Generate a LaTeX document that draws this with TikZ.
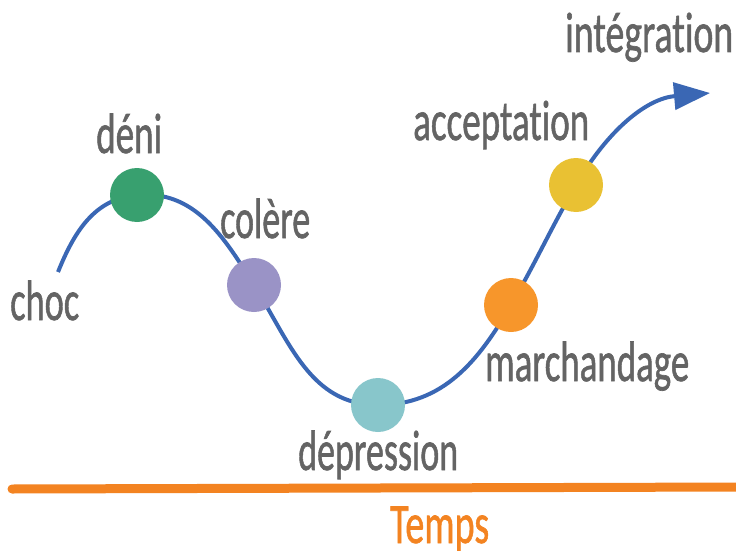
\documentclass[tikz,border=0pt]{standalone}
\usepackage{fontspec}
\setmainfont{Carlito}[Ligatures={NoCommon}, FakeBold=1.2]
\usetikzlibrary{arrows.meta}
\definecolor{txtgray}{HTML}{646464}
\definecolor{curveblue}{HTML}{3A67B4}
\definecolor{timeorange}{HTML}{F38321}
\definecolor{cgreen}{HTML}{38A06F}
\definecolor{cpurple}{HTML}{9A93C6}
\definecolor{cteal}{HTML}{88C6CB}
\definecolor{corange}{HTML}{F7962B}
\definecolor{cyellow}{HTML}{E9C133}
\newcommand{\fitw}[2]{\resizebox{#1}{\height}{#2}}
\begin{document}
\begin{tikzpicture}[x=1pt,y=-1pt,
  lbl/.style={anchor=base west, inner sep=0pt, text=txtgray, font=\fontsize{57}{57}\selectfont},
  stage/.style={circle, minimum size=54pt, inner sep=0pt, draw=none},
  wave/.style={draw=curveblue, line width=4pt},
  axis/.style={draw=timeorange, line width=9pt, line cap=round}]
\useasboundingbox (0,0) rectangle (736,551);
% axis
\coordinate (axL) at (12,489);
\coordinate (axR) at (745,487);
\draw[axis] (axL) -- (axR);
% curve anchors
\coordinate (start) at (58,272);
\coordinate (tip) at (710,93);
\coordinate (pD) at (137,195);
\coordinate (pC) at (254,285);
\coordinate (pP) at (378,405);
\coordinate (pM) at (511,305);
\coordinate (pA) at (576,185);
\draw[wave, -{Triangle[length=36pt,width=27pt]}]
  (start) to[out=68,in=185] (pD)
  to[out=5,in=122] (pC)
  to[out=-58,in=180] (pP)
  to[out=0,in=240] (pM)
  to[out=60,in=240] (pA)
  to[out=60,in=185] (tip);
% stages
\node[stage, fill=cgreen] (deni) at (pD) {};
\node[stage, fill=cpurple] (colere) at (pC) {};
\node[stage, fill=cteal] (depr) at (pP) {};
\node[stage, fill=corange] (march) at (pM) {};
\node[stage, fill=cyellow] (accept) at (pA) {};
% labels
\node[lbl] (tchoc) at (10,320) {\fitw{69pt}{choc}};
\node[lbl] (tdeni) at (96,153) {\fitw{66pt}{déni}};
\node[lbl] (tcolere) at (220,238) {\fitw{90pt}{colère}};
\node[lbl] (tdepr) at (298,470) {\fitw{160pt}{dépression}};
\node[lbl] (tinteg) at (565,52) {\fitw{168pt}{intégration}};
\node[lbl] (taccept) at (413,140) {\fitw{176pt}{acceptation}};
\node[lbl] (tmarch) at (485,381) {\fitw{204pt}{marchandage}};
\node[lbl, text=timeorange] (ttemps) at (390,543) {\fitw{99pt}{Temps}};
\end{tikzpicture}
\end{document}
